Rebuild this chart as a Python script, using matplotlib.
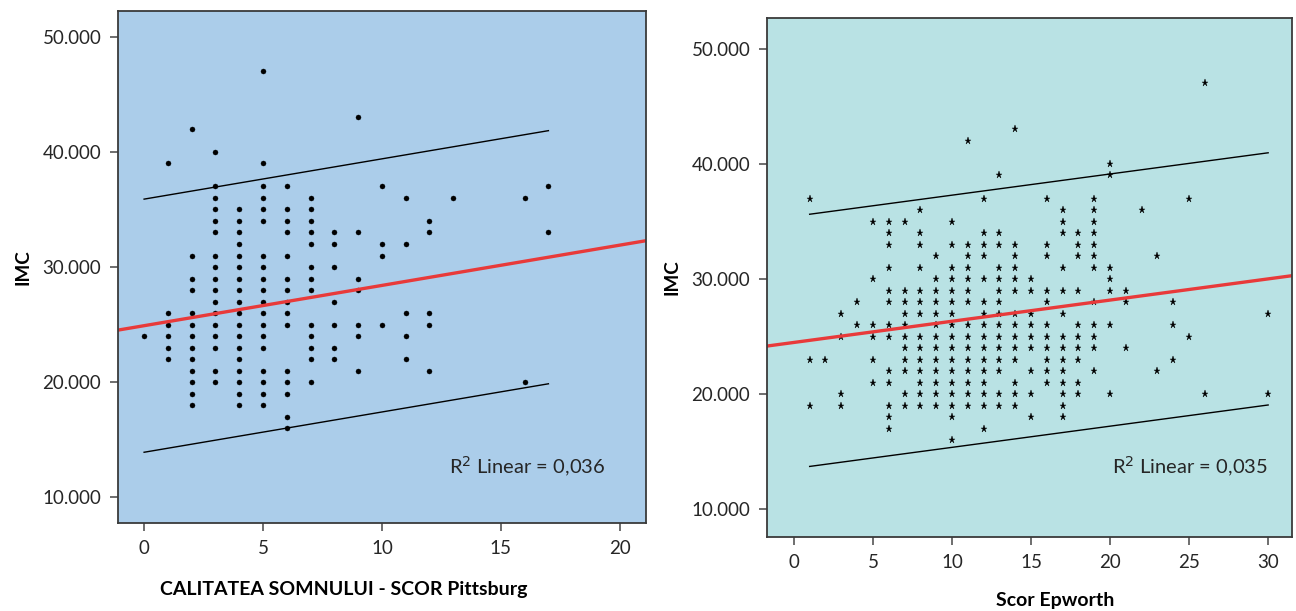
import matplotlib
matplotlib.use("Agg")
import matplotlib.pyplot as plt
import numpy as np
from matplotlib.ticker import FuncFormatter

plt.rcParams['font.family'] = ['Lato', 'DejaVu Sans']

# ---------------- Left panel data (Pittsburg score vs IMC) ----------------
pitt_cols = {
    0: [24],
    1: [39, 26, 25, 24, 23, 22],
    2: [42, 31, 29, 28, 26, 25, 24, 23, 22, 21, 20, 19, 18],
    3: [40, 37, 36, 35, 34, 33, 31, 30, 29, 28, 27, 26, 25, 24, 23, 21, 20],
    4: [35, 34, 33, 32, 31, 30, 29, 28, 27, 26, 25, 24, 23, 22, 21, 20, 19, 18],
    5: [47, 39, 37, 36, 35, 34, 31, 30, 29, 28, 27, 26, 25, 24, 23, 21, 20, 19, 18],
    6: [37, 35, 34, 33, 31, 29, 28, 27, 26, 25, 21, 20, 19, 17, 16],
    7: [36, 35, 34, 33, 32, 30, 29, 28, 25, 24, 23, 22, 20],
    8: [33, 32, 30, 27, 25, 23, 22],
    9: [43, 33, 29, 28, 25, 24, 21],
    10: [37, 32, 31, 25],
    11: [36, 32, 26, 24, 22],
    12: [34, 33, 26, 25, 21],
    13: [36],
    16: [36, 20],
    17: [37, 33],
}
pitt_x = [k for k, v in pitt_cols.items() for _ in v]
pitt_y = [y for v in pitt_cols.values() for y in v]
pitt_fit = (24.9, 0.35)      # intercept, slope
pitt_pi = 11.0               # prediction interval half-width
pitt_r2 = "R$^2$ Linear = 0,036"

# ---------------- Right panel data (Epworth score vs IMC) ----------------
epw_cols = {
    1: [37, 23, 19],
    2: [23],
    3: [27, 25, 20, 19],
    4: [28, 26],
    5: [35, 30, 26, 25, 23, 21],
    6: [35, 34, 33, 31, 29, 28, 26, 25, 22, 21, 19, 18, 17],
    7: [35, 29, 28, 27, 26, 25, 24, 23, 22, 20, 19],
    8: [36, 34, 33, 31, 29, 28, 27, 25, 24, 23, 22, 21, 20, 19],
    9: [32, 30, 29, 28, 27, 26, 25, 24, 23, 22, 21, 20, 19],
    10: [35, 33, 31, 30, 29, 28, 27, 26, 25, 24, 23, 22, 21, 20, 19, 18, 16],
    11: [42, 33, 32, 31, 30, 29, 28, 26, 25, 24, 23, 22, 21, 20, 19],
    12: [37, 34, 33, 32, 30, 28, 27, 26, 25, 24, 23, 22, 21, 20, 19, 17],
    13: [39, 34, 33, 31, 30, 29, 28, 27, 26, 25, 24, 23, 22, 20, 19],
    14: [43, 33, 32, 31, 30, 29, 27, 26, 25, 24, 23, 21, 20, 19],
    15: [30, 29, 27, 26, 25, 24, 22, 20, 18],
    16: [37, 33, 32, 29, 28, 26, 25, 24, 23, 22, 21],
    17: [36, 35, 34, 31, 29, 27, 25, 24, 23, 22, 21, 20, 19, 18],
    18: [34, 33, 32, 29, 26, 25, 24, 23, 21, 20],
    19: [37, 36, 35, 34, 33, 32, 31, 28, 26, 25, 24, 22],
    20: [40, 39, 31, 30, 29, 26, 20],
    21: [29, 28, 24],
    22: [36],
    23: [32, 22],
    24: [28, 26, 23],
    25: [37, 25],
    26: [47, 20],
    30: [27, 20],
}
epw_x = [k for k, v in epw_cols.items() for _ in v]
epw_y = [y for v in epw_cols.values() for y in v]
epw_fit = (24.5, 0.184)
epw_pi = 10.95
epw_r2 = "R$^2$ Linear = 0,035"

y_ticks = [10, 20, 30, 40, 50]

fig = plt.figure(figsize=(12.96, 6.11), dpi=100)
ax1 = fig.add_axes([0.091, 0.144, 0.4074, 0.838])
ax2 = fig.add_axes([0.5918, 0.121, 0.405, 0.850])

def style(ax, bg, xticks, xlim, ylim, xlabel, lab_xy):
    ax.set_facecolor(bg)
    ax.set_xlim(*xlim)
    ax.set_ylim(*ylim)
    ax.set_xticks(xticks)
    ax.set_yticks(y_ticks)
    ax.yaxis.set_major_formatter(FuncFormatter(lambda v, p: f"{v:.3f}"))
    for s in ax.spines.values():
        s.set_color('#3a3a3a')
        s.set_linewidth(1.3)
    ax.tick_params(axis='both', direction='out', length=6, width=1.2,
                   color='#555555', labelsize=13.5, labelcolor='#262626', pad=6)
    ax.set_ylabel("IMC", fontsize=13.5, fontweight='bold', labelpad=8)
    ax.set_xlabel(xlabel, fontsize=14, fontweight='bold')
    ax.xaxis.set_label_coords(*lab_xy)

style(ax1, '#abcdea', [0, 5, 10, 15, 20], (-1.1, 21.1), (7.75, 52.25),
      "CALITATEA SOMNULUI - SCOR Pittsburg", (0.428, -0.113))
style(ax2, '#b9e2e4', [0, 5, 10, 15, 20, 25, 30], (-1.7, 31.5), (7.6, 52.7),
      "Scor Epworth", (0.549, -0.106))

def draw(ax, xs, ys, fit, pi, marker, ms, xlim, r2, tx, ty):
    ax.plot(xs, ys, linestyle='none', marker=marker, markersize=ms,
            color='black', markeredgewidth=0.3)
    b0, b1 = fit
    xr = np.array([min(xs), max(xs)])
    ax.plot(xr, b0 + b1 * xr + pi, color='black', lw=1.0)
    ax.plot(xr, b0 + b1 * xr - pi, color='black', lw=1.0)
    xf = np.array(xlim)
    ax.plot(xf, b0 + b1 * xf, color='#e83a3a', lw=2.4)
    ax.text(tx, ty, r2, transform=ax.transAxes, ha='center', va='center',
            fontsize=14.5, color='#262626')

draw(ax1, pitt_x, pitt_y, pitt_fit, pitt_pi, 'o', 3.6, (-1.1, 21.1), pitt_r2, 0.775, 0.11)
draw(ax2, epw_x, epw_y, epw_fit, epw_pi, '*', 5.2, (-1.7, 31.5), epw_r2, 0.806, 0.135)

fig.savefig("out.png", dpi=100, facecolor='white')
